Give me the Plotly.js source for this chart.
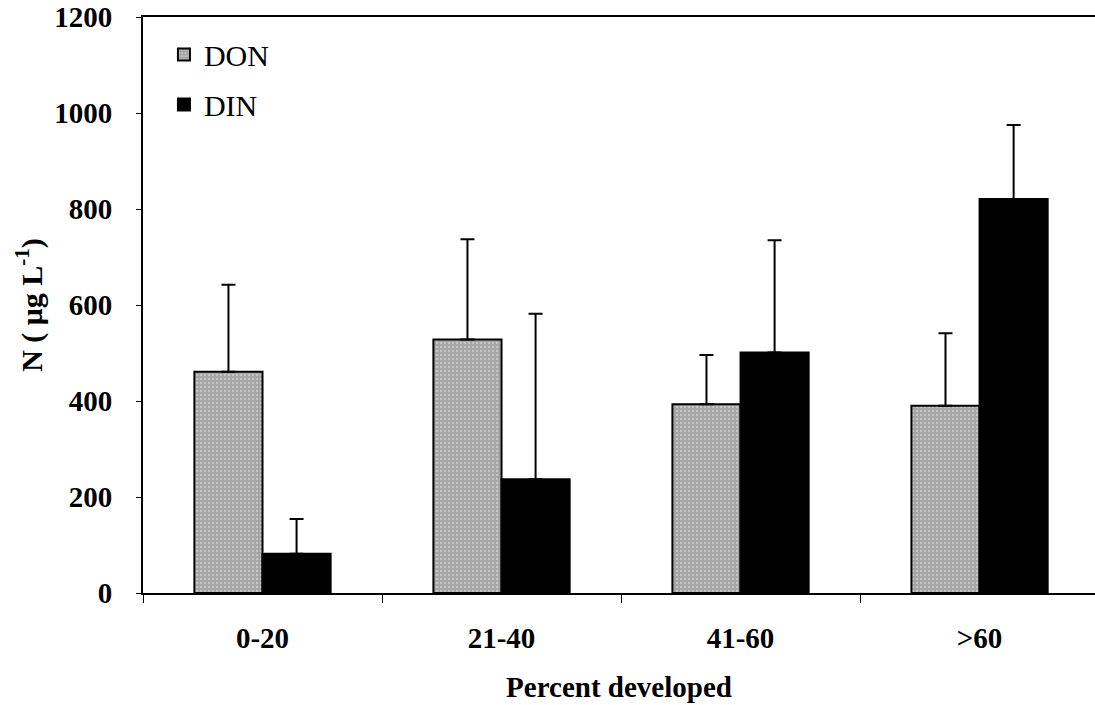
<!DOCTYPE html>
<html>
<head>
<meta charset="utf-8">
<script src="https://cdn.plot.ly/plotly-3.0.1.min.js"></script>
<style>html,body{margin:0;padding:0;background:#fff;}#chart{width:1095px;height:705px;}</style>
</head>
<body>
<div id="chart"></div>
<script>
const categories = ["0-20", "21-40", "41-60", ">60"];
const donValues = [461, 528, 393, 390];
const donErrors = [181, 209, 103, 151];
const dinValues = [82, 237, 501, 821];
const dinErrors = [72, 345, 234, 154];
const yTickValues = [0, 200, 400, 600, 800, 1000, 1200];

const fontFamily = '"Liberation Serif", "Times New Roman", serif';

const traces = [
  {
    type: 'bar', name: 'DON', legendgroup: 'don', x: categories, y: donValues,
    marker: {
      color: '#a4a4a4',
      line: {color: '#000', width: 2},
      pattern: {shape: '.', fillmode: 'overlay', fgcolor: '#e6e6e6', size: 4, solidity: 0.3}
    },
    error_y: {type: 'data', array: donErrors, arrayminus: donErrors.map(() => 0), symmetric: false, color: '#000', thickness: 2, width: 7}
  },
  {
    type: 'bar', name: 'DIN', legendgroup: 'din', x: categories, y: dinValues,
    marker: {color: '#000', line: {color: '#000', width: 2}},
    error_y: {type: 'data', array: dinErrors, arrayminus: dinErrors.map(() => 0), symmetric: false, color: '#000', thickness: 2, width: 7}
  }
];

const layout = {
  width: 1095, height: 705,
  margin: {l: 143, r: 0, t: 17, b: 112},
  paper_bgcolor: '#fff', plot_bgcolor: '#fff',
  font: {family: fontFamily, color: '#000', size: 29},
  barmode: 'group', bargap: 0.43, bargroupgap: 0,
  showlegend: true,
  legend: {
    x: 0.022, y: 0.98, xanchor: 'left', yanchor: 'top',
    bgcolor: 'rgba(0,0,0,0)', font: {family: fontFamily, size: 30, color: '#000'},
    itemwidth: 30, tracegroupgap: 8, traceorder: 'grouped'
  },
  xaxis: {
    type: 'category', range: [-0.5, 3.483],
    showline: true, linecolor: '#000', linewidth: 2, mirror: true,
    ticks: 'outside', tickson: 'boundaries', ticklen: 8, tickcolor: '#000', tickwidth: 1,
    ticklabelstandoff: 18,
    tickfont: {family: fontFamily, size: 29, weight: 'bold'},
    showgrid: false, zeroline: false,
    title: {text: '<b>Percent developed</b>', font: {family: fontFamily, size: 29}, standoff: 24}
  },
  yaxis: {
    range: [0, 1200], tickvals: yTickValues,
    showline: true, linecolor: '#000', linewidth: 2,
    ticks: 'outside', ticklen: 5, tickcolor: '#000', tickwidth: 1,
    ticklabelstandoff: 18,
    tickfont: {family: fontFamily, size: 29, weight: 'bold'},
    showgrid: false, zeroline: false,
    title: {text: '<b>N ( μg L<sup>-1</sup>)</b>', font: {family: fontFamily, size: 30}, standoff: 3}
  }
};

Plotly.newPlot('chart', traces, layout, {displayModeBar: false, staticPlot: true});
</script>
</body>
</html>
